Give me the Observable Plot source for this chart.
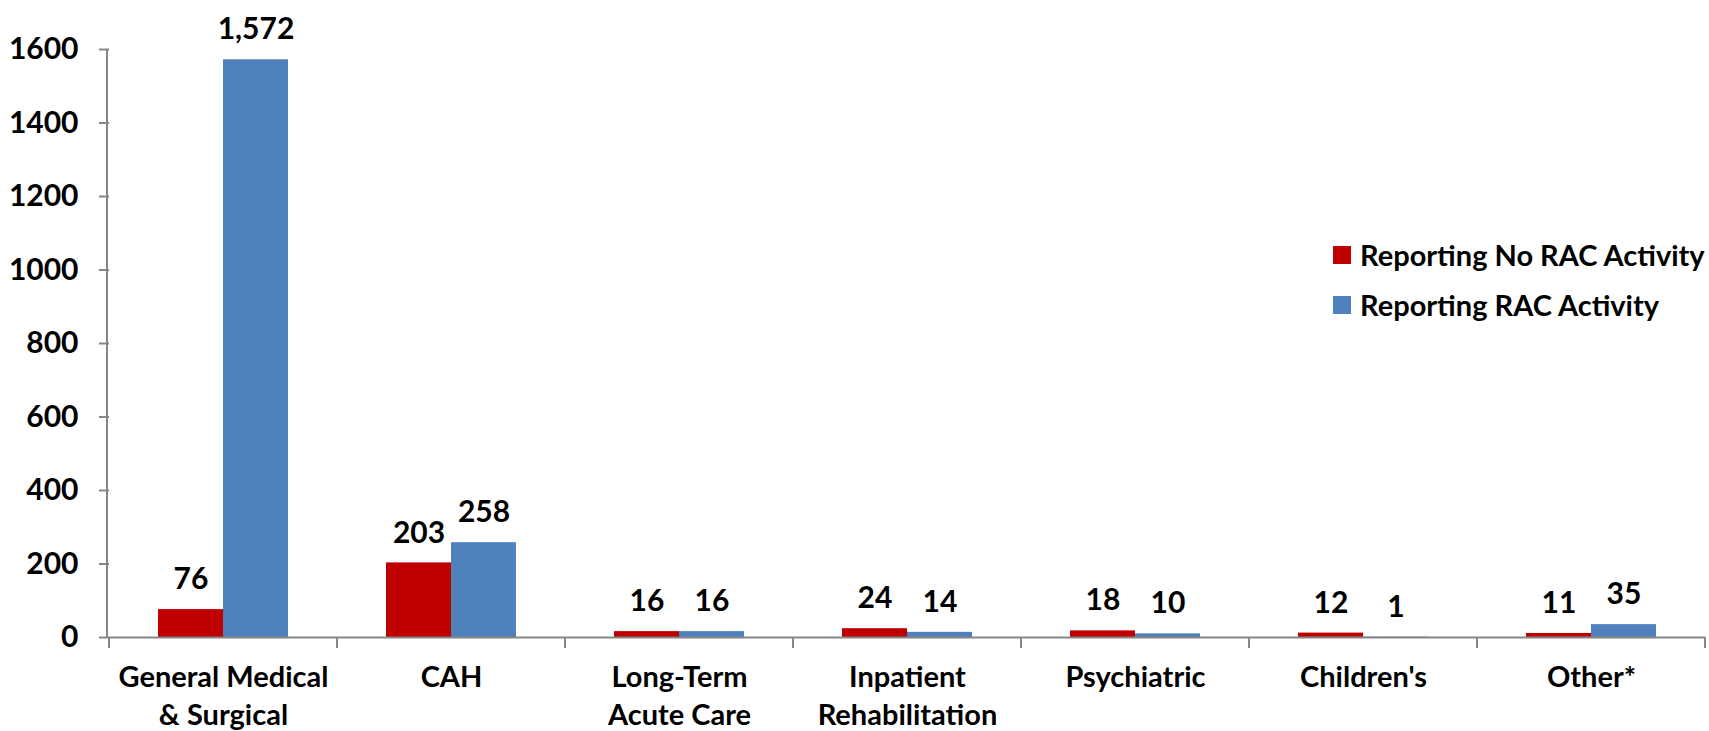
<!DOCTYPE html>
<html><head><meta charset="utf-8">
<script src="https://cdn.jsdelivr.net/npm/d3@7"></script>
<script src="https://cdn.jsdelivr.net/npm/@observablehq/plot@0.6"></script>
<style>
body{margin:0;background:#fff;}
#wrap{position:relative;width:1709px;height:731px;font-family:Lato, sans-serif;font-weight:bold;}
.leg{position:absolute;left:1333px;display:flex;align-items:center;font-size:29px;color:#000;white-space:nowrap;}
.leg .sw{width:18px;height:18px;margin-right:9px;}
</style></head>
<body><div id="wrap"></div>
<script>
const categories = ["General Medical & Surgical", "CAH", "Long-Term Acute Care", "Inpatient Rehabilitation", "Psychiatric", "Children's", "Other*"];
const categoryLabels = ["General Medical\n& Surgical", "CAH", "Long-Term\nAcute Care", "Inpatient\nRehabilitation", "Psychiatric", "Children's", "Other*"];
const seriesNames = ["Reporting No RAC Activity", "Reporting RAC Activity"];
const noRacValues = [76, 203, 16, 24, 18, 12, 11];
const racValues = [1572, 258, 16, 14, 10, 1, 35];
const seriesColors = ["#C00000", "#4F81BD"];
const yTicks = [0, 200, 400, 600, 800, 1000, 1200, 1400, 1600];

const rows = [];
categories.forEach((c, i) => {
  rows.push({category: c, series: seriesNames[0], value: noRacValues[i]});
  rows.push({category: c, series: seriesNames[1], value: racValues[i]});
});
const labelOf = new Map(categories.map((c, i) => [c, categoryLabels[i]]));
const fmt = d3.format(",");
const axisGrey = "#868686";

const chart = Plot.plot({
  width: 1709, height: 731,
  marginTop: 49, marginBottom: 94, marginLeft: 107, marginRight: 2,
  style: {fontFamily: "Lato, sans-serif", fontWeight: "bold", fontSize: "29px", color: "#000", background: "#fff"},
  fx: {domain: categories, padding: 0, label: null},
  x: {domain: seriesNames, paddingInner: 0, paddingOuter: 0.74, axis: null},
  y: {domain: [0, 1600], label: null},
  color: {domain: seriesNames, range: seriesColors},
  marks: [
    Plot.barY(rows, {fx: "category", x: "series", y: "value", fill: "series"}),
    Plot.text(rows, {fx: "category", x: "series", y: "value", text: d => fmt(d.value), dy: -30, fontSize: 30, fontWeight: "bold", lineAnchor: "middle", fill: "#000"}),
    Plot.ruleY([0], {stroke: axisGrey, strokeWidth: 2}),
    Plot.axisY({ticks: yTicks, tickSize: 10, tickPadding: 21, stroke: axisGrey, strokeWidth: 2, fontSize: 30, fontWeight: "bold", label: null, tickFormat: d => String(d)}),
    Plot.axisFx({anchor: "bottom", tickSize: 0, tickPadding: 23, tickFormat: c => labelOf.get(c), lineHeight: 1.3, fontSize: 29, fontWeight: "bold", label: null})
  ]
});

// decorative axis line and category-boundary ticks, positioned with the chart's scales
const fx = chart.scale("fx"), y = chart.scale("y");
const svg = d3.select(chart);
const y0 = y.apply(0), yTop = y.apply(1600);
svg.append("line").attr("x1", 107).attr("x2", 107).attr("y1", y0).attr("y2", yTop)
  .attr("stroke", axisGrey).attr("stroke-width", 2);
const bounds = categories.map(c => fx.apply(c));
bounds.push(fx.apply(categories[categories.length - 1]) + fx.bandwidth);
bounds.forEach(b => svg.append("line").attr("x1", b).attr("x2", b).attr("y1", y0).attr("y2", y0 + 11)
  .attr("stroke", axisGrey).attr("stroke-width", 2));

const wrap = document.getElementById("wrap");
wrap.appendChild(chart);
seriesNames.forEach((s, i) => {
  const d = document.createElement("div");
  d.className = "leg";
  d.style.top = (237 + i * 50) + "px";
  d.innerHTML = `<span class="sw" style="background:${seriesColors[i]}"></span><span>${s}</span>`;
  wrap.appendChild(d);
});
</script>
</body></html>
